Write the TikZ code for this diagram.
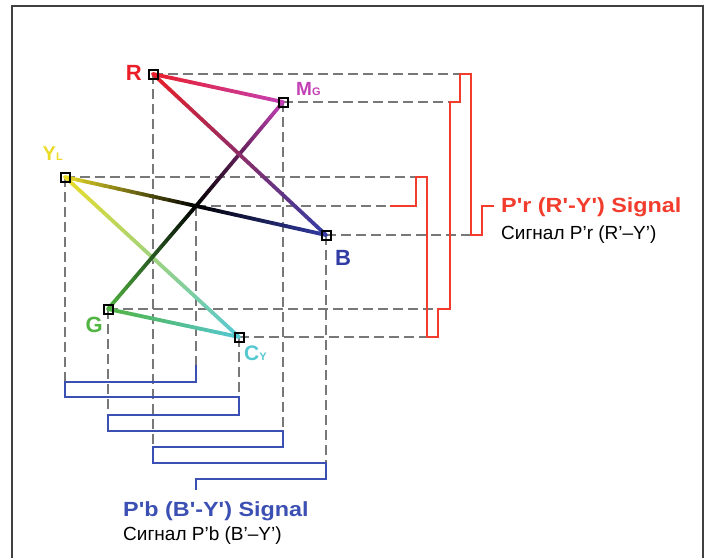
\documentclass[tikz,border=0pt]{standalone}
\usepackage{fontspec}
\setmainfont{Liberation Sans}
\newfontfamily\widesans[FakeStretch=1.14]{Liberation Sans}
\usetikzlibrary{calc,positioning}

\definecolor{rcol}{RGB}{235,30,40}
\definecolor{mgcol}{RGB}{195,65,180}
\definecolor{ylcol}{RGB}{235,220,40}
\definecolor{bcol}{RGB}{50,60,165}
\definecolor{gcol}{RGB}{80,180,65}
\definecolor{cycol}{RGB}{85,200,210}
\definecolor{rsig}{RGB}{242,60,45}
\definecolor{bsig}{RGB}{60,80,180}
\definecolor{dashgray}{RGB}{120,120,120}

% line from #1 to #2, colour going from #3 to #4
\newcommand*{\gradline}[4]{%
  \foreach \k [evaluate=\k as \kk using int(\k+1),
               evaluate=\k as \pk using int(98-5*\k)] in {0,...,19}
    \draw[colline,color=#3!\pk!#4] ($(#1)!\k/20!(#2)$) -- ($(#1)!\kk/20!(#2)$);%
}
\newcommand*{\lowcap}[1]{{\fontsize{11}{12}\selectfont #1}}

\begin{document}
\begin{tikzpicture}
[
	x=1pt, y=-1pt,
	vertex/.style={draw,line width=2pt,inner sep=0pt,minimum size=9pt},
	colline/.style={line width=3.8pt,line cap=round},
	gdash/.style={draw=dashgray,line width=2.4pt,dash pattern=on 10pt off 5pt},
	wave/.style={line width=2.5pt,line join=miter},
	ptlabel/.style={inner sep=0pt,font=\fontsize{22}{24}\selectfont\bfseries},
	sigtitle/.style={inner sep=0pt,anchor=base west,font=\widesans\fontsize{20.5}{24}\selectfont\bfseries},
	sigsub/.style={inner sep=0pt,anchor=base west,font=\fontsize{19}{22}\selectfont}
]

	\useasboundingbox (0,0) rectangle (708,558);

	% frame
	\draw[black!75,line width=1.5pt] (12,558) -- (12,6) -- (703,6) -- (703,558);

	% colour points
	\coordinate (R) at (153,74);
	\coordinate (Mg) at (283,102);
	\coordinate (YL) at (65,177);
	\coordinate (C) at (196,206);
	\coordinate (B) at (326,235);
	\coordinate (G) at (108,309);
	\coordinate (CY) at (239,337);

	% steps of the two signals
	\coordinate (r0) at (390,0);
	\coordinate (r1) at (416,0);
	\coordinate (r2) at (427,0);
	\coordinate (r3) at (438,0);
	\coordinate (r4) at (450,0);
	\coordinate (r5) at (460,0);
	\coordinate (r6) at (471,0);
	\coordinate (r7) at (482,0);
	\coordinate (r8) at (494,0);
	\coordinate (b0) at (0,365);
	\coordinate (b1) at (0,382);
	\coordinate (b2) at (0,397);
	\coordinate (b3) at (0,415);
	\coordinate (b4) at (0,431);
	\coordinate (b5) at (0,447);
	\coordinate (b6) at (0,463);
	\coordinate (b7) at (0,479);
	\coordinate (b8) at (0,490);

	% projections
	\foreach \p/\w in {R/r5,Mg/r4,YL/r1,C/r0,B/r6,G/r3,CY/r2}
		\draw[gdash] (\p) -- (\w |- \p);
	\foreach \p/\w in {R/b5,Mg/b4,YL/b1,C/b0,B/b6,G/b3,CY/b2}
		\draw[gdash] (\p) -- (\p |- \w);

	% P'r signal
	\draw[wave,rsig] (r0 |- C) -| (r1 |- YL) -| (r2 |- CY) -| (r3 |- G)
		-| (r4 |- Mg) -| (r5 |- R) -| (r6 |- B) -| (r7 |- C) -- (r8 |- C);

	% P'b signal
	\draw[wave,bsig] (C |- b0) |- (YL |- b1) |- (CY |- b2) |- (G |- b3)
		|- (Mg |- b4) |- (R |- b5) |- (B |- b6) |- (C |- b7) -- (C |- b8);

	% colour lines
	\gradline{YL}{CY}{ylcol}{cycol}
	\gradline{G}{CY}{gcol}{cycol}
	\gradline{YL}{C}{ylcol}{black}
	\gradline{C}{B}{black}{bcol}
	\gradline{Mg}{C}{mgcol}{black}
	\gradline{C}{G}{black}{gcol}
	\gradline{R}{Mg}{rcol}{mgcol}
	\gradline{R}{B}{rcol}{bcol}

	\foreach \p in {R,Mg,YL,B,G,CY}
		\node[vertex] (\p-pt) at (\p) {};

	% labels
	\node[ptlabel,rcol,anchor=base east,xshift=-11pt,yshift=-6pt] (R-lbl) at (R) {R};
	\node[ptlabel,mgcol,anchor=base west,xshift=13pt,yshift=7pt] (Mg-lbl)
	  at (Mg) {\fontsize{19}{20}\selectfont M\lowcap{G}};
	\node[ptlabel,ylcol,anchor=base east,xshift=-2pt,yshift=17pt] (YL-lbl)
	  at (YL) {\fontsize{20}{20}\selectfont Y\lowcap{L}};
	\node[ptlabel,bcol,anchor=base west,xshift=9pt,yshift=-30pt] (B-lbl) at (B) {B};
	\node[ptlabel,gcol,anchor=base east,xshift=-5pt,yshift=-23pt] (G-lbl) at (G) {G};
	\node[ptlabel,cycol,anchor=base west,xshift=5pt,yshift=-23pt] (CY-lbl)
	  at (CY) {\fontsize{21}{20}\selectfont C\lowcap{Y}};

	\node[sigtitle,rsig] (pr-title) at (501,212) {P'r (R'-Y') Signal};
	\node[sigsub] (pr-sub) at (501,239) {Сигнал P’r (R’–Y’)};
	\node[sigtitle,bsig] (pb-title) at (123,516) {P'b (B'-Y') Signal};
	\node[sigsub] (pb-sub) at (123,540) {Сигнал P’b (B’–Y’)};

\end{tikzpicture}
\end{document}
